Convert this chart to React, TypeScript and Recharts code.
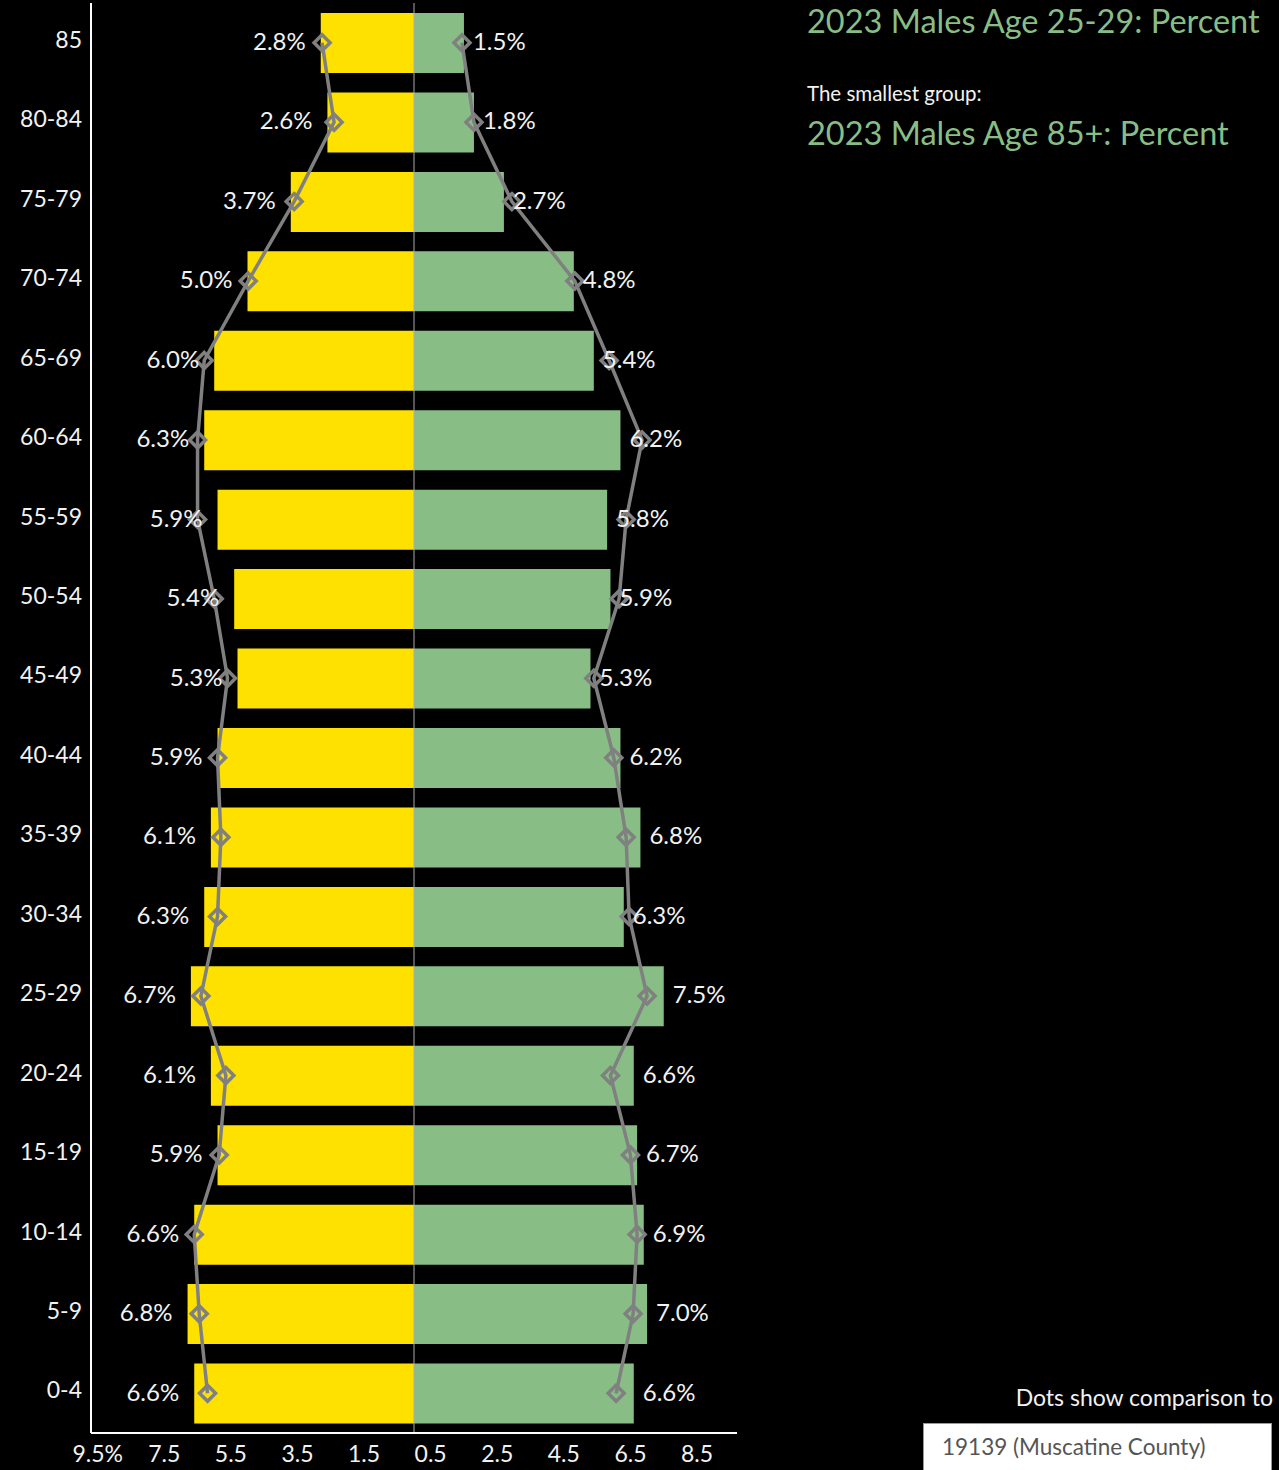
import React from 'react';
import {
  ComposedChart,
  Bar,
  Line,
  XAxis,
  YAxis,
  ReferenceLine,
  LabelList,
} from 'recharts';

const AGES = ['85', '80-84', '75-79', '70-74', '65-69', '60-64', '55-59', '50-54', '45-49', '40-44', '35-39', '30-34', '25-29', '20-24', '15-19', '10-14', '5-9', '0-4'];
const FEMALE_PCT = [2.8, 2.6, 3.7, 5.0, 6.0, 6.3, 5.9, 5.4, 5.3, 5.9, 6.1, 6.3, 6.7, 6.1, 5.9, 6.6, 6.8, 6.6];
const MALE_PCT = [1.5, 1.8, 2.7, 4.8, 5.4, 6.2, 5.8, 5.9, 5.3, 6.2, 6.8, 6.3, 7.5, 6.6, 6.7, 6.9, 7.0, 6.6];
const COUNTY_FEMALE = [2.76, 2.4, 3.6, 4.98, 6.3, 6.5, 6.5, 6.0, 5.6, 5.9, 5.8, 5.9, 6.4, 5.65, 5.85, 6.6, 6.45, 6.2];
const COUNTY_MALE = [1.44, 1.8, 2.94, 4.83, 5.86, 6.85, 6.37, 6.16, 5.4, 6.0, 6.37, 6.46, 7.0, 5.9, 6.5, 6.7, 6.58, 6.07];
const X_TICKS = [-9.5, -7.5, -5.5, -3.5, -1.5, 0.5, 2.5, 4.5, 6.5, 8.5];

const YELLOW = '#FFE100';
const GREEN = '#88BE86';
const GRAY = '#808080';
const FONT = "Lato, 'Open Sans', sans-serif";

const data = AGES.map((age, i) => ({
  age,
  female: -FEMALE_PCT[i],
  male: MALE_PCT[i],
  compF: -COUNTY_FEMALE[i],
  compM: COUNTY_MALE[i],
}));

const Diamond = (props: any) => {
  const { cx, cy } = props;
  if (cx == null || cy == null) return null;
  const r = 8;
  return (
    <polygon
      points={`${cx},${cy - r} ${cx + r},${cy} ${cx},${cy + r} ${cx - r},${cy}`}
      fill="none"
      stroke={GRAY}
      strokeWidth={3.5}
    />
  );
};

const LeftLabel = (props: any) => {
  const { x, y, width, height, value } = props;
  const edge = Math.min(x, x + width);
  return (
    <text x={edge - 15} y={y + height / 2} dy={7} textAnchor="end" fill="#f2f2f2" fontSize={24} fontFamily={FONT}>
      {Math.abs(value).toFixed(1)}%
    </text>
  );
};

const RightLabel = (props: any) => {
  const { x, y, width, height, value } = props;
  const edge = Math.max(x, x + width);
  return (
    <text x={edge + 9} y={y + height / 2} dy={7} textAnchor="start" fill="#f2f2f2" fontSize={24} fontFamily={FONT}>
      {Math.abs(value).toFixed(1)}%
    </text>
  );
};

const fmtTick = (v: number, i: number) => (i === 0 ? `${Math.abs(v)}%` : `${Math.abs(v)}`);

export default function App() {
  return (
    <div style={{ position: 'absolute', left: 0, top: 0, width: 1279, height: 1470, background: '#000', overflow: 'hidden', fontFamily: FONT }}>
      <div style={{ position: 'absolute', left: 0, top: 0 }}>
        <ComposedChart
          width={760}
          height={1470}
          data={data}
          layout="vertical"
          stackOffset="sign"
          barSize={60}
          margin={{ top: 3, right: 23, left: 0, bottom: 0 }}
        >
          <XAxis
            type="number"
            domain={[-9.7, 9.7]}
            ticks={X_TICKS}
            tickFormatter={fmtTick}
            axisLine={{ stroke: '#fff', strokeWidth: 2 }}
            tickLine={false}
            height={37}
            tick={{ fill: '#f2f2f2', fontSize: 23, fontFamily: FONT }}
            tickMargin={7}
            allowDataOverflow
          />
          <YAxis
            type="category"
            dataKey="age"
            width={91}
            axisLine={{ stroke: '#fff', strokeWidth: 2 }}
            tickLine={false}
            tick={{ fill: '#f2f2f2', fontSize: 23, fontFamily: FONT, dy: -3 }}
            tickMargin={3}
          />
          <Bar dataKey="female" stackId="a" fill={YELLOW} isAnimationActive={false}>
            <LabelList dataKey="female" content={<LeftLabel />} />
          </Bar>
          <Bar dataKey="male" stackId="a" fill={GREEN} isAnimationActive={false}>
            <LabelList dataKey="male" content={<RightLabel />} />
          </Bar>
          <ReferenceLine x={0} stroke="#aaa" strokeWidth={1} />
          <Line dataKey="compF" stroke={GRAY} strokeWidth={3.5} dot={<Diamond />} activeDot={false} isAnimationActive={false} />
          <Line dataKey="compM" stroke={GRAY} strokeWidth={3.5} dot={<Diamond />} activeDot={false} isAnimationActive={false} />
        </ComposedChart>
      </div>
      <div style={{ position: 'absolute', left: 807, top: 1, color: GREEN, fontSize: 32.5, whiteSpace: 'nowrap' }}>
        2023 Males Age 25-29: Percent
      </div>
      <div style={{ position: 'absolute', left: 807, top: 81, color: '#f2f2f2', fontSize: 20.5, whiteSpace: 'nowrap' }}>
        The smallest group:
      </div>
      <div style={{ position: 'absolute', left: 807, top: 113, color: GREEN, fontSize: 32.5, whiteSpace: 'nowrap' }}>
        2023 Males Age 85+: Percent
      </div>
      <div style={{ position: 'absolute', right: 6, top: 1383, color: '#f2f2f2', fontSize: 23, whiteSpace: 'nowrap' }}>
        Dots show comparison to
      </div>
      <div
        style={{
          position: 'absolute',
          left: 923,
          top: 1423,
          width: 349,
          height: 60,
          background: '#fff',
          border: '1px solid #999',
          color: '#555',
          fontSize: 22.5,
          boxSizing: 'border-box',
          paddingLeft: 18,
          paddingTop: 9,
          whiteSpace: 'nowrap',
        }}
      >
        19139 (Muscatine County)
      </div>
    </div>
  );
}
